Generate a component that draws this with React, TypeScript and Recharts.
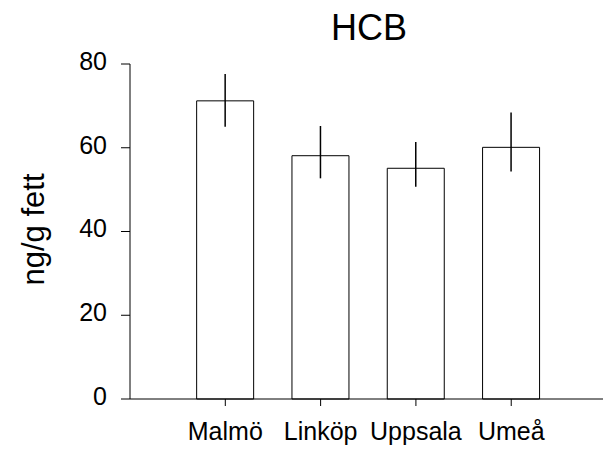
import React from "react";
import { BarChart, Bar, XAxis, YAxis, ErrorBar } from "recharts";

const categories = ["Malmö", "Linköp", "Uppsala", "Umeå"];
const values = [71.2, 58.1, 55.1, 60.1];
const errLow = [6.2, 5.4, 4.4, 5.8];
const errHigh = [6.4, 7.1, 6.3, 8.3];
const yTicks = [0, 20, 40, 60, 80];
const xPositions = [1, 2, 3, 4];

const data = categories.map((name, i) => ({
  pos: xPositions[i],
  name,
  value: values[i],
  err: [errLow[i], errHigh[i]],
}));

const FONT = "'Liberation Sans', Arial, Helvetica, sans-serif";

const YLabel = (props: any) => {
  const { viewBox } = props;
  const cx = 44;
  const cy = viewBox.y + viewBox.height / 2 - 2;
  return (
    <text
      x={cx}
      y={cy}
      transform={`rotate(-90, ${cx}, ${cy})`}
      textAnchor="middle"
      fontFamily={FONT}
      fontSize={31}
      fill="#000"
    >
      ng/g fett
    </text>
  );
};

export default function App() {
  return (
    <div style={{ position: "absolute", left: 0, top: 0, width: 603, height: 450, background: "#fff" }}>
      <div
        style={{
          position: "absolute",
          left: 130,
          width: 478,
          top: 8,
          textAlign: "center",
          fontFamily: FONT,
          fontSize: 36,
          lineHeight: "40px",
          color: "#000",
        }}
      >
        HCB
      </div>
      <BarChart
        width={603}
        height={450}
        data={data}
        margin={{ top: 64, right: 0, left: 0, bottom: 0 }}
      >
        <XAxis
          dataKey="pos"
          type="number"
          domain={[0, 4.963]}
          allowDataOverflow
          ticks={xPositions}
          tickFormatter={(v: number) => categories[v - 1]}
          height={51}
          tickSize={7}
          tickMargin={16}
          axisLine={{ stroke: "#000", strokeWidth: 1 }}
          tickLine={{ stroke: "#000", strokeWidth: 1 }}
          tick={{ fill: "#000", fontSize: 25, fontFamily: FONT }}
          interval={0}
        />
        <YAxis
          domain={[0, 80]}
          ticks={yTicks}
          width={130}
          tickSize={9}
          tickMargin={14}
          axisLine={{ stroke: "#000", strokeWidth: 1 }}
          tickLine={{ stroke: "#000", strokeWidth: 1 }}
          tick={{ fill: "#000", fontSize: 25, fontFamily: FONT, dy: -3 }}
          label={<YLabel />}
        />
        <Bar
          dataKey="value"
          fill="#fff"
          stroke="#000"
          strokeWidth={1}
          barSize={57}
          isAnimationActive={false}
        >
          <ErrorBar dataKey="err" width={0} stroke="#000" strokeWidth={1.5} direction="y" />
        </Bar>
      </BarChart>
    </div>
  );
}
